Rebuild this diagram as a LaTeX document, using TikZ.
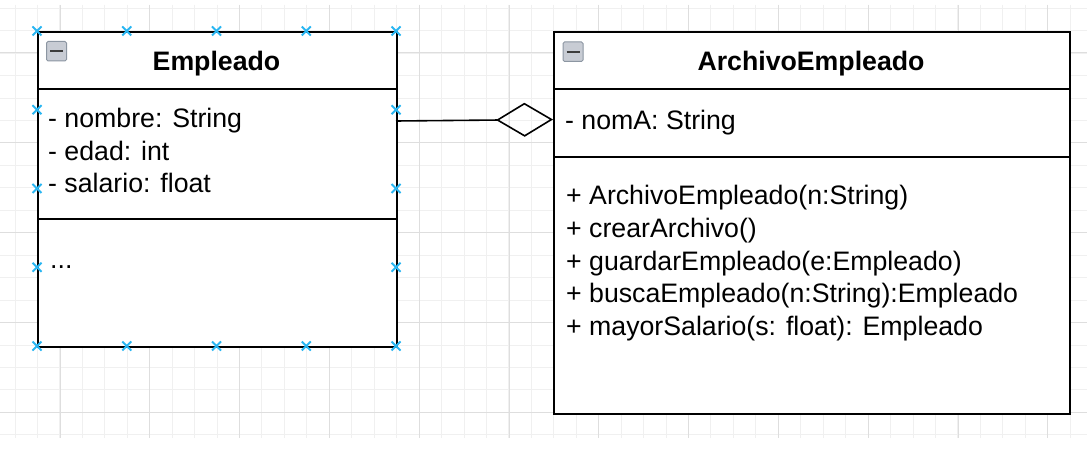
\documentclass[tikz,border=0pt]{standalone}
\usepackage{fontspec}
\setmainfont{Liberation Sans}
\usetikzlibrary{arrows.meta}
\definecolor{gminor}{RGB}{240,240,240}
\definecolor{gmajor}{RGB}{222,222,222}
\definecolor{hcol}{RGB}{41,182,242}
\definecolor{icofill}{RGB}{200,204,212}
\definecolor{icoline}{RGB}{140,150,162}
\definecolor{icobar}{RGB}{60,60,60}
\tikzset{
  umlbox/.style={draw=black, line width=1.6pt, fill=white, inner sep=0pt, anchor=north west},
  divider/.style={draw=black, line width=1.6pt},
  title/.style={font=\fontsize{26.7}{32.5}\selectfont\bfseries, inner sep=0pt, anchor=base},
  member/.style={font=\fontsize{26.7}{32.5}\selectfont, inner sep=0pt, anchor=base west},
  assoc/.style={draw=black, line width=1.6pt, -{Diamond[open, length=57pt, width=34pt, line width=1.6pt]}},
  xmark/.pic={\draw[hcol, line width=2pt] (-4.5,-4.5) -- (4.5,4.5) (-4.5,4.5) -- (4.5,-4.5);},
  collapse/.pic={\draw[icoline, fill=icofill, line width=1pt, rounded corners=1.5pt] (0,0) rectangle (20,19.5);
                 \draw[icobar, line width=2pt] (3.5,9.75) -- (16.5,9.75);}
}
\begin{document}
\begin{tikzpicture}[x=1pt, y=-1pt]
\useasboundingbox[fill=white] (0,0) rectangle (1087,457);
% grid
\foreach \i in {0,...,47} {
  \pgfmathsetmacro{\gx}{15+22.45*\i}
  \draw[gminor, line width=1pt] (\gx,5) -- (\gx,438);
}
\foreach \i in {0,...,19} {
  \pgfmathsetmacro{\gy}{8.3+22.45*\i}
  \draw[gminor, line width=1pt] (0,\gy) -- (1087,\gy);
}
\foreach \i in {0,...,11} {
  \pgfmathsetmacro{\gx}{60+89.8*\i}
  \draw[gmajor, line width=1pt] (\gx,5) -- (\gx,438);
}
\foreach \i in {0,...,4} {
  \pgfmathsetmacro{\gy}{53+89.8*\i}
  \draw[gmajor, line width=1pt] (0,\gy) -- (1087,\gy);
}
% Empleado
\node[umlbox, minimum width=359pt, minimum height=315pt] (emp) at (37,31) {};
\draw[divider] (37,89) -- (396,89);
\draw[divider] (37,219) -- (396,219);
\pic at (46.5,41.5) {collapse};
\node[title] (empT) at (216.5,71) {Empleado};
\node[member] (empA1) at (48,128) {- nombre: String};
\node[member] (empA2) at (48,160.5) {- edad: int};
\node[member] (empA3) at (48,193) {- salario: float};
\node[member] (empM1) at (50,269) {...};
% ArchivoEmpleado
\node[umlbox, minimum width=516pt, minimum height=382pt] (arch) at (553,31) {};
\draw[divider] (553,89) -- (1069,89);
\draw[divider] (553,157) -- (1069,157);
\pic at (563,42) {collapse};
\node[title] (archT) at (811,71) {ArchivoEmpleado};
\node[member] (archA1) at (565,130) {- nomA: String};
\node[member] (archM1) at (566,205) {+ ArchivoEmpleado(n:String)};
\node[member] (archM2) at (566,237.5) {+ crearArchivo()};
\node[member] (archM3) at (566,270) {+ guardarEmpleado(e:Empleado)};
\node[member] (archM4) at (566,302.5) {+ buscaEmpleado(n:String):Empleado};
\node[member] (archM5) at (566,335) {+ mayorSalario(s: float): Empleado};
% aggregation
\coordinate (empR) at (396,121);
\coordinate (archL) at (553,119.5);
\draw[assoc] (empR) -- (archL);
% selection handles
\foreach \hx in {37,126.75,216.5,306.25,396} {
  \pic at (\hx,31) {xmark};
  \pic at (\hx,346) {xmark};
}
\foreach \hy in {109.75,188.5,267.25} {
  \pic at (37,\hy) {xmark};
  \pic at (396,\hy) {xmark};
}
\end{tikzpicture}
\end{document}
